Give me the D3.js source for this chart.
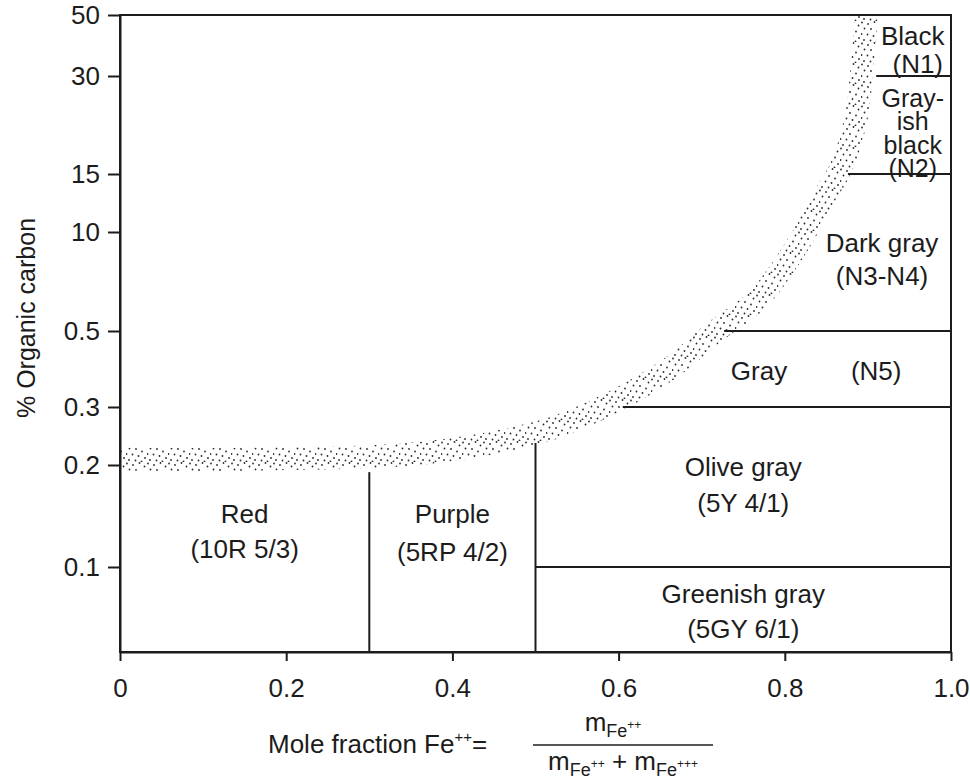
<!DOCTYPE html>
<html><head><meta charset="utf-8">
<script src="https://cdn.jsdelivr.net/npm/d3@7/dist/d3.min.js"></script>
<style>
body{margin:0;background:#fff}
text{font-family:"Liberation Sans",Arial,Helvetica,sans-serif;fill:#1c1c1c}
</style>
</head><body>
<svg id="chart" width="970" height="779"></svg>
<script>
// ---------- data ----------
const xTickValues = [0, 0.2, 0.4, 0.6, 0.8, 1.0];
const xTickLabels = ["0", "0.2", "0.4", "0.6", "0.8", "1.0"];
const yTickValues = [0.1, 0.2, 0.3, 0.5, 10, 15, 30, 50];
const yTickLabels = ["0.1", "0.2", "0.3", "0.5", "10", "15", "30", "50"];
// the printed y axis is piecewise: stops and their relative spacing along the axis
const yScaleStops = [0, 0.1, 0.2, 0.3, 0.5, 10, 15, 30, 50];
const yScaleSpacing = [0, 85, 187, 245, 321, 420, 478, 576, 637];

// stippled transition band (centre line)
const bandX = [0, 0.156, 0.297, 0.373, 0.433, 0.481, 0.526, 0.598, 0.664, 0.714, 0.767, 0.798, 0.824, 0.845, 0.868, 0.886, 0.893, 0.898];
const bandY = [0.210, 0.210, 0.214, 0.222, 0.234, 0.248, 0.266, 0.318, 0.405, 0.495, 3.47, 6.64, 9.9, 12.76, 16.07, 23.7, 32.95, 50];

// boundaries between colour fields
const hLineY  = [0.1, 0.3, 0.5, 15, 30];
const hLineX0 = [0.5, 0.605, 0.727, 0.876, 0.910];
const hLineX1 = [1.0, 1.0, 1.0, 1.0, 1.0];
const vLineX    = [0.3, 0.5];
const vLineYTop = [0.193, 0.238];

// field labels: lines of text, anchor x (mole fraction), first baseline (% C)
const labelLines = [
  ["Red", "(10R 5/3)"],
  ["Purple", "(5RP 4/2)"],
  ["Olive gray", "(5Y 4/1)"],
  ["Greenish gray", "(5GY 6/1)"],
  ["Gray"],
  ["(N5)"],
  ["Dark gray", "(N3-N4)"],
  ["Black"],
  ["(N1)"],
  ["Gray-", "ish", "black", "(N2)"]
];
const labelX = [0.15, 0.40, 0.75, 0.75, 0.769, 0.910, 0.917, 0.954, 0.960, 0.954];
const labelY = [0.143, 0.143, 0.189, 0.0576, 0.371, 0.371, 8.08, 40.2, 31.0, 25.3];
const labelLineGap = [35, 38, 36, 35, 0, 0, 33, 0, 0, 23.5];
const labelSize = [26, 26, 26, 26, 26, 26, 26, 26, 26, 25];

// ---------- layout ----------
const mLeft = 120, mRight = 951, mTop = 15, mBottom = 652;
const H = mBottom - mTop;
const spanMax = yScaleSpacing[yScaleSpacing.length - 1];

const x = d3.scaleLinear().domain([0, 1]).range([mLeft, mRight]);
const y = d3.scaleLinear().domain(yScaleStops)
  .range(yScaleSpacing.map(s => mBottom - s / spanMax * H));

const svg = d3.select("#chart");
const defs = svg.append("defs");

// stipple texture
const pat = defs.append("pattern").attr("id", "stipple")
  .attr("patternUnits", "userSpaceOnUse").attr("width", 21).attr("height", 21);
const dots = [[1,1.5],[7,3],[13.5,1],[18.5,4.5],[3.5,7.5],[10,8],[16,10.5],[0.5,13],[6.5,13.5],[12.5,15],[19,17],[3,19],[9.5,19.5],[15.5,20.5]];
pat.selectAll("circle").data(dots).join("circle")
  .attr("cx", d => d[0]).attr("cy", d => d[1]).attr("r", 0.9).attr("fill", "#2a2a2a");

defs.append("clipPath").attr("id", "plotclip").append("rect")
  .attr("x", mLeft).attr("y", mTop).attr("width", mRight - mLeft).attr("height", H);

// band
const bandData = bandX.map((v, i) => [v, bandY[i]]);
const line = d3.line().x(d => x(d[0])).y(d => y(d[1])).curve(d3.curveCatmullRom);
svg.append("path").attr("clip-path", "url(#plotclip)")
  .attr("d", line(bandData))
  .attr("fill", "none").attr("stroke", "url(#stipple)").attr("stroke-width", 23);

const ink = "#1c1c1c";

// boundaries
svg.append("g").selectAll("line").data(hLineY).join("line")
  .attr("x1", (d, i) => x(hLineX0[i])).attr("x2", (d, i) => x(hLineX1[i]))
  .attr("y1", d => y(d)).attr("y2", d => y(d))
  .attr("stroke", ink).attr("stroke-width", 2);
svg.append("g").selectAll("line").data(vLineX).join("line")
  .attr("x1", d => x(d)).attr("x2", d => x(d))
  .attr("y1", y(0)).attr("y2", (d, i) => y(vLineYTop[i]))
  .attr("stroke", ink).attr("stroke-width", 2);

// frame
svg.append("rect").attr("x", mLeft).attr("y", mTop).attr("width", mRight - mLeft).attr("height", H)
  .attr("fill", "none").attr("stroke", ink).attr("stroke-width", 2);

// axes
const xAxis = d3.axisBottom(x).tickValues(xTickValues)
  .tickFormat((d, i) => xTickLabels[i]).tickSizeInner(9).tickSizeOuter(0).tickPadding(18);
const gx = svg.append("g").attr("transform", `translate(0,${mBottom})`).call(xAxis);
const yAxis = d3.axisLeft(y).tickValues(yTickValues)
  .tickFormat((d, i) => yTickLabels[i]).tickSizeInner(12).tickSizeOuter(0).tickPadding(8);
const gy = svg.append("g").attr("transform", `translate(${mLeft},0)`).call(yAxis);
[gx, gy].forEach(g => {
  g.select(".domain").attr("stroke", ink).attr("stroke-width", 2);
  g.selectAll(".tick line").attr("stroke", ink).attr("stroke-width", 2);
  g.selectAll(".tick text").attr("font-size", 26).attr("fill", ink)
    .style("font-family", '"Liberation Sans",Arial,sans-serif');
});

// field labels
labelLines.forEach((lines, i) => {
  const t = svg.append("text").attr("text-anchor", "middle").attr("font-size", labelSize[i])
    .attr("x", x(labelX[i])).attr("y", y(labelY[i]));
  lines.forEach((s, j) => {
    t.append("tspan").attr("x", x(labelX[i])).attr("dy", j === 0 ? 0 : labelLineGap[i]).text(s);
  });
});

// y axis title
svg.append("text").attr("font-size", 25).attr("text-anchor", "middle")
  .attr("transform", "translate(35,318) rotate(-90)").text("% Organic carbon");

// x axis title
const xt = svg.append("text").attr("font-size", 26).attr("x", 268).attr("y", 753);
xt.append("tspan").text("Mole fraction Fe");
xt.append("tspan").attr("font-size", 15).attr("dy", -11).text("++");
xt.append("tspan").attr("dy", 11).text("=");

svg.append("line").attr("x1", 533).attr("x2", 713).attr("y1", 745).attr("y2", 745)
  .attr("stroke", ink).attr("stroke-width", 1.6);

const num = svg.append("text").attr("font-size", 26).attr("text-anchor", "middle").attr("x", 613).attr("y", 731);
num.append("tspan").text("m");
num.append("tspan").attr("font-size", 18).attr("dy", 6).text("Fe");
num.append("tspan").attr("font-size", 12).attr("dy", -8).text("++");

const den = svg.append("text").attr("font-size", 26).attr("text-anchor", "middle").attr("x", 623).attr("y", 770);
den.append("tspan").text("m");
den.append("tspan").attr("font-size", 18).attr("dy", 6).text("Fe");
den.append("tspan").attr("font-size", 12).attr("dy", -8).text("++");
den.append("tspan").attr("dy", 2).text(" + ");
den.append("tspan").text("m");
den.append("tspan").attr("font-size", 18).attr("dy", 6).text("Fe");
den.append("tspan").attr("font-size", 12).attr("dy", -8).text("+++");
</script>
</body></html>
